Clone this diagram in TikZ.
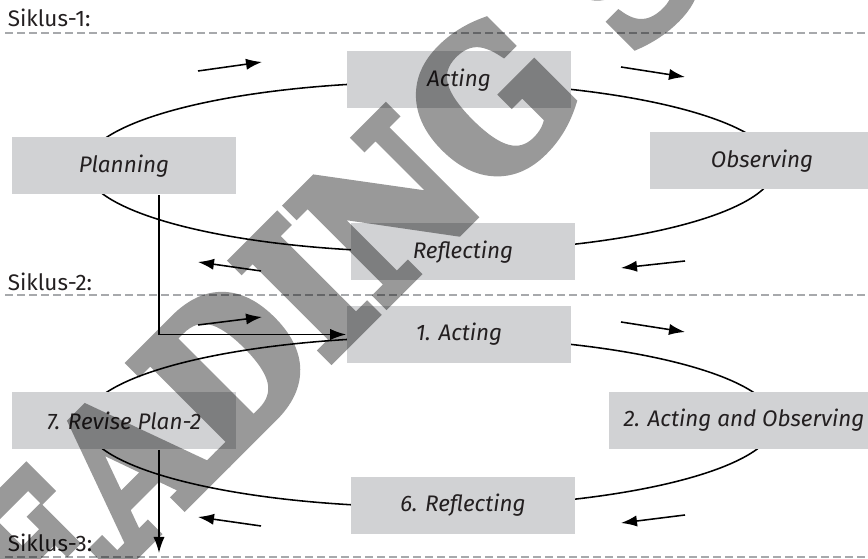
\documentclass[tikz,border=0pt]{standalone}
\usepackage{fontspec}
\setmainfont{Fira Sans}
\newfontfamily\markfont[FakeBold = 5]{DejaVu Serif Bold}
\usetikzlibrary{arrows.meta}

\definecolor{boxgray}{HTML}{D1D2D4}
\definecolor{inkgray}{HTML}{231F20}
\definecolor{linegray}{HTML}{A7A9AC}

\begin{document}
\begin{tikzpicture}[> = {Latex[length = 4mm, width = 2.8mm]}, line width = 1.1pt,
	stage/.style = {fill = boxgray, minimum width = 5.6cm, minimum height = 1.425cm,
		inner sep = 0pt, text = inkgray, font = \fontsize{16}{16}\selectfont\itshape},
	cyclelabel/.style = {anchor = west, inner sep = 0pt, text = inkgray,
		font = \fontsize{16}{16}\selectfont},
	divider/.style = {linegray, line width = 0.8pt, dash pattern = on 0.2cm off 0.1cm}]

	\useasboundingbox (0, 0) rectangle (21.7, 13.975);

	% Cycle labels and dividers
	
	\node [cyclelabel] (s1) at (0.175, 13.525) {Siklus-1:};
	\node [cyclelabel] (s2) at (0.175, 6.925) {Siklus-2:};
	\node [cyclelabel] (s3) at (0.175, 0.4) {Siklus-3:};
	
	\draw [divider] (0.125, 13.15) -- (21.7, 13.15);
	\draw [divider] (0.125, 6.6) -- (21.7, 6.6);
	\draw [divider] (0.125, 0.05) -- (21.7, 0.05);
	
	% The two loops
	
	\draw (10.75, 9.8) ellipse (8.625 and 2.125);
	\draw (10.75, 3.425) ellipse (8.625 and 2.125);
	
	% Stages of the first cycle
	
	\node [stage] (plan) at (3.1, 9.825) {Planning};
	\node [stage] (act) at (11.475, 11.975) {Acting};
	\node [stage] (obs) at (19.05, 9.95) {Observing};
	\node [stage] (refl) at (11.575, 7.675) {Reflecting};
	
	% Stages of the second cycle
	
	\node [stage] (revise) at (3.1, 3.4625) {7. Revise Plan-2};
	\node [stage] (acttwo) at (11.475, 5.6125) {1. Acting};
	\node [stage, minimum width = 6.75cm] (obstwo) at (18.6, 3.4625) {2. Acting and Observing};
	\node [stage] (refltwo) at (11.575, 1.3375) {6. Reflecting};
	
	% Direction of the loops
	
	\draw [->] (4.95, 12.2) -- (6.55, 12.425);
	\draw [->] (15.525, 12.3) -- (17.125, 12.05);
	\draw [->] (17.125, 7.45) -- (15.525, 7.275);
	\draw [->] (6.525, 7.2) -- (4.95, 7.425);
	
	\draw [->] (4.95, 5.85) -- (6.55, 6.05);
	\draw [->] (15.525, 5.925) -- (17.125, 5.675);
	\draw [->] (17.125, 1.1) -- (15.525, 0.9);
	\draw [->] (6.525, 0.825) -- (4.95, 1.05);
	
	% Links between the cycles
	
	\coordinate (next) at (3.975, 0.15);
	
	\draw [->] ([xshift = 0.875cm] plan.south) |- (acttwo.west);
	\draw [->] ([xshift = 0.875cm] revise.south) -- (next);
	
	% Watermark
	
	\begin{scope}[transparency group, opacity = 0.4]
		\node [rotate = 45, xscale = 0.88, anchor = base west, inner sep = 0pt, text = black,
			font = \markfont\fontsize{135}{135}\selectfont] (mark) at (-1.425, -4.7) {READING SAMPLE};
	\end{scope}

\end{tikzpicture}
\end{document}
